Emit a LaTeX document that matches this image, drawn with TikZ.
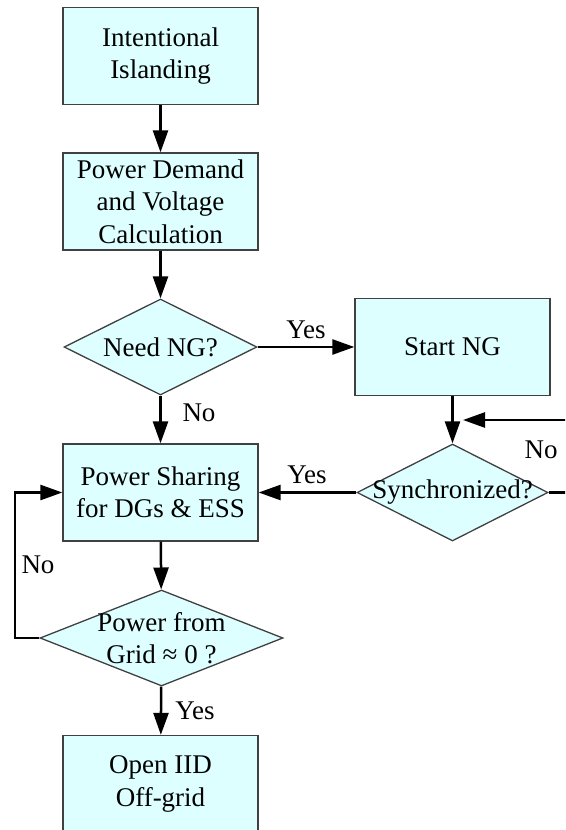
\documentclass[tikz,border=0pt]{standalone}
\usepackage{fontspec}
\setmainfont{Liberation Serif}
\usetikzlibrary{arrows.meta,shapes.geometric}
\definecolor{boxfill}{RGB}{221,255,255}
\definecolor{boxline}{RGB}{64,64,64}
\tikzset{
  blk/.style={draw=boxline,fill=boxfill,line width=1.3pt,minimum width=195pt,minimum height=97pt,inner sep=0pt,align=center},
  dec/.style={draw=boxline,fill=boxfill,line width=1.3pt,diamond,inner sep=0pt},
  flow/.style={->,line width=2.5pt},
}
\begin{document}
\begin{tikzpicture}[x=1pt,y=-1pt,>={Triangle[length=22pt,width=15pt]},font=\fontsize{27}{32.5}\selectfont]
  \useasboundingbox (0,0) rectangle (565,830);
  \clip (0,0) rectangle (565,830);
  % main column
  \node[blk] (intent) at (160.5,56) {Intentional\\Islanding};
  \node[blk] (calc) at (160.5,201.5) {Power Demand\\and Voltage\\Calculation};
  \node[dec,minimum width=193pt,minimum height=96pt,label={center:Need NG?}] (needng) at (160.5,347) {};
  \node[blk] (share) at (160.5,492.5) {Power Sharing\\for DGs \& ESS};
  \node[dec,minimum width=243pt,minimum height=96pt,label={[align=center]center:Power from\\Grid ≈ 0 ?}] (grid) at (161.5,638) {};
  \node[blk] (open) at (160.5,784) {Open IID\\Off-grid};
  % NG branch
  \node[blk] (startng) at (452.5,347) {Start NG};
  \node[dec,minimum width=191pt,minimum height=97pt,label={center:Synchronized?}] (sync) at (452.5,492.5) {};
  \coordinate (lp) at (15,638);
  \coordinate (rt) at (600,492.5);
  \coordinate (fb) at (463,420);
  % connectors
  \draw[flow] (intent) -- (calc);
  \draw[flow] (calc) -- (needng);
  \draw[flow] (needng) -- (startng);
  \draw[flow] (needng) -- (share);
  \draw[flow] (startng) -- (sync);
  \draw[flow] (sync) -- (share);
  \draw[flow] (share) -- (grid);
  \draw[flow] (grid) -- (open);
  \draw[flow] (grid.west) -- (lp) |- (share.west);
  \draw[flow] (sync.east) -- (rt) |- (fb);
  % branch labels
  \node (yes1) at (306,330) {Yes};
  \node (no1) at (199,413) {No};
  \node (no2) at (541,450) {No};
  \node (yes2) at (307,475) {Yes};
  \node (no3) at (38,565) {No};
  \node (yes3) at (195,711) {Yes};
\end{tikzpicture}
\end{document}
